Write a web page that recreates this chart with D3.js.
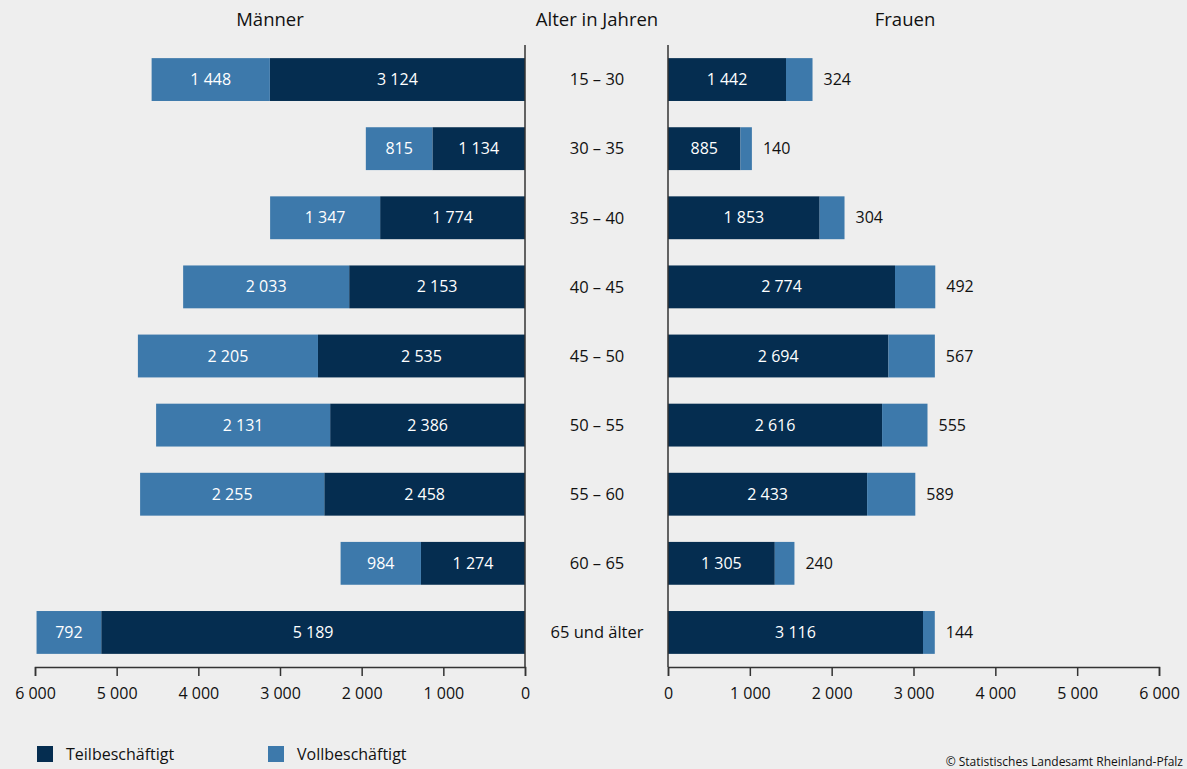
<!DOCTYPE html>
<html><head><meta charset="utf-8">
<script src="https://cdn.jsdelivr.net/npm/d3@7"></script>
<style>
html,body{margin:0;padding:0;background:#eeeeee;}
svg{display:block;font-family:"Open Sans","Noto Sans",sans-serif;}
</style></head>
<body><svg id="c" width="1187" height="769"></svg>
<script>
const categories = ["15 – 30","30 – 35","35 – 40","40 – 45","45 – 50","50 – 55","55 – 60","60 – 65","65 und älter"];
const menTeil   = [3124,1134,1774,2153,2535,2386,2458,1274,5189];
const menVoll   = [1448,815,1347,2033,2205,2131,2255,984,792];
const womenTeil = [1442,885,1853,2774,2694,2616,2433,1305,3116];
const womenVoll = [324,140,304,492,567,555,589,240,144];
const tickValues = [0,1000,2000,3000,4000,5000,6000];
const seriesNames = ["Teilbeschäftigt","Vollbeschäftigt"];

const C_DARK = "#052d50", C_LIGHT = "#3d79ab", AX = "#333";
const loc = d3.formatLocale({decimal:",", thousands:"\u00A0", grouping:[3], currency:["","€"]});
const fmt = loc.format(",d");

const svg = d3.select("#c");
svg.append("rect").attr("width",1187).attr("height",769).attr("fill","#eeeeee");

const y = d3.scaleBand().domain(categories).range([45,667]).paddingInner(0.38).paddingOuter(0.19);
const xL = d3.scaleLinear().domain([0,6000]).range([525,35]);
const xR = d3.scaleLinear().domain([0,6000]).range([668,1159]);
const FS = 16;

// Left (Männer)
const gL = svg.append("g");
categories.forEach((c,i)=>{
  const t = menTeil[i], v = menVoll[i];
  gL.append("rect").attr("x",xL(t)).attr("y",y(c)).attr("width",xL(0)-xL(t)).attr("height",y.bandwidth()).attr("fill",C_DARK);
  gL.append("rect").attr("x",xL(t+v)).attr("y",y(c)).attr("width",xL(t)-xL(t+v)).attr("height",y.bandwidth()).attr("fill",C_LIGHT);
  gL.append("text").attr("x",(xL(0)+xL(t))/2).attr("y",y(c)+y.bandwidth()/2).attr("dy","0.35em")
    .attr("text-anchor","middle").attr("fill","#fff").attr("font-size",FS).text(fmt(t));
  gL.append("text").attr("x",(xL(t)+xL(t+v))/2).attr("y",y(c)+y.bandwidth()/2).attr("dy","0.35em")
    .attr("text-anchor","middle").attr("fill","#fff").attr("font-size",FS).text(fmt(v));
});
// Right (Frauen)
const gR = svg.append("g");
categories.forEach((c,i)=>{
  const t = womenTeil[i], v = womenVoll[i];
  gR.append("rect").attr("x",xR(0)).attr("y",y(c)).attr("width",xR(t)-xR(0)).attr("height",y.bandwidth()).attr("fill",C_DARK);
  gR.append("rect").attr("x",xR(t)).attr("y",y(c)).attr("width",xR(t+v)-xR(t)).attr("height",y.bandwidth()).attr("fill",C_LIGHT);
  gR.append("text").attr("x",(xR(0)+xR(t))/2).attr("y",y(c)+y.bandwidth()/2).attr("dy","0.35em")
    .attr("text-anchor","middle").attr("fill","#fff").attr("font-size",FS).text(fmt(t));
  gR.append("text").attr("x",xR(t+v)+11).attr("y",y(c)+y.bandwidth()/2).attr("dy","0.35em")
    .attr("text-anchor","start").attr("fill","#111").attr("font-size",FS).text(fmt(v));
});

// Center labels
categories.forEach(c=>{
  svg.append("text").attr("x",597).attr("y",y(c)+y.bandwidth()/2).attr("dy","0.35em")
    .attr("text-anchor","middle").attr("fill","#111").attr("font-size",16.5).text(c);
});

// Vertical baselines
svg.append("line").attr("x1",xL(0)).attr("x2",xL(0)).attr("y1",45).attr("y2",667).attr("stroke",AX).attr("stroke-width",1.5);
svg.append("line").attr("x1",xR(0)).attr("x2",xR(0)).attr("y1",45).attr("y2",667).attr("stroke",AX).attr("stroke-width",1.5);

// Axes
function styleAxis(g){
  g.select(".domain").attr("stroke",AX).attr("stroke-width",1.5);
  g.selectAll(".tick line").attr("stroke",AX).attr("stroke-width",1.5);
  g.selectAll(".tick text").attr("fill","#111").attr("font-size",16).attr("font-family","\"Open Sans\",\"Noto Sans\",sans-serif");
}
svg.append("g").attr("transform","translate(0,667)")
  .call(d3.axisBottom(xL).tickValues(tickValues).tickFormat(fmt).tickSize(9).tickPadding(12)).call(styleAxis);
svg.append("g").attr("transform","translate(0,667)")
  .call(d3.axisBottom(xR).tickValues(tickValues).tickFormat(fmt).tickSize(9).tickPadding(12)).call(styleAxis);

// Titles
svg.append("text").attr("x",270).attr("y",20).attr("dy","0.35em").attr("text-anchor","middle").attr("font-size",18.5).attr("fill","#111").text("Männer");
svg.append("text").attr("x",597).attr("y",20).attr("dy","0.35em").attr("text-anchor","middle").attr("font-size",18.5).attr("fill","#111").text("Alter in Jahren");
svg.append("text").attr("x",905).attr("y",20).attr("dy","0.35em").attr("text-anchor","middle").attr("font-size",18.5).attr("fill","#111").text("Frauen");

// Legend
const legX = [37,268];
[C_DARK,C_LIGHT].forEach((col,i)=>{
  svg.append("rect").attr("x",legX[i]).attr("y",746).attr("width",16).attr("height",16).attr("fill",col);
  svg.append("text").attr("x",legX[i]+29).attr("y",754).attr("dy","0.35em").attr("font-size",16).attr("fill","#111").text(seriesNames[i]);
});

// Source
svg.append("text").attr("x",1183).attr("y",766).attr("text-anchor","end").attr("font-size",12).attr("fill","#111").text("© Statistisches Landesamt Rheinland-Pfalz");
</script></body></html>
